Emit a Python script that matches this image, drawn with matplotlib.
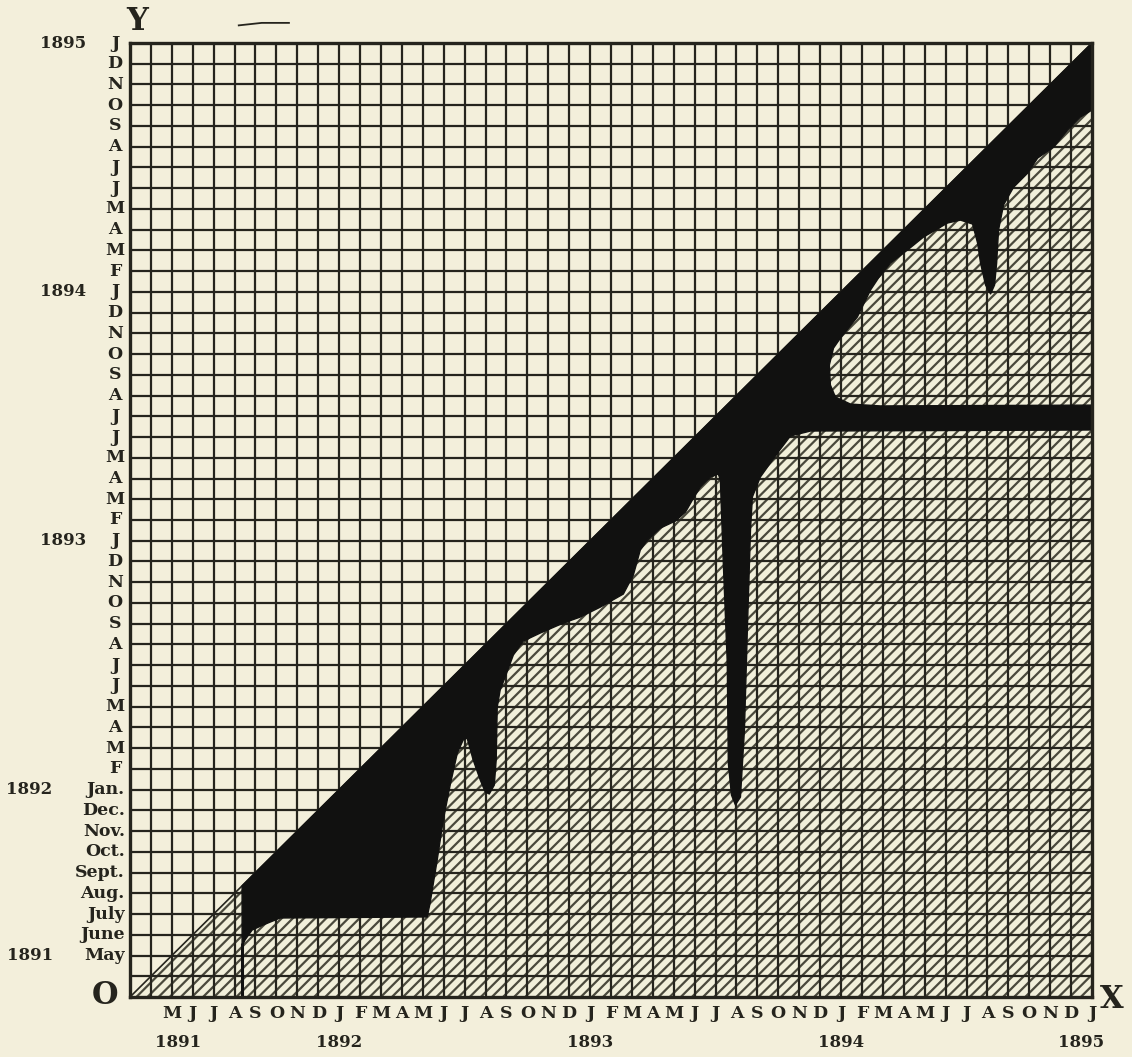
import numpy as np
import matplotlib.pyplot as plt
from matplotlib.patches import Polygon

# months counted from March 1891 (0) to January 1895 (46)
n_months = 46
x_month_letters = (list("MJJASOND") + list("JFMAMJJASOND") * 3 + ["J"])
y_month_labels = (["May", "June", "July", "Aug.", "Sept.", "Oct.", "Nov.", "Dec.", "Jan."]
                  + list("FMAMJJASOND") + list("JFMAMJJASOND") * 2 + ["J"])
label_start = 2          # first label (May 1891)
years = ["1891", "1892", "1893", "1894", "1895"]
year_pos_x = [2.3, 10, 22, 34, 45.5]
year_pos_y = [2, 10, 22, 34, 46]

# start of the black band on the diagonal
band_start = 5.36
stem_top = 2.41

# lower outline of the black band (months on x, months on y)
lower_x = [5.36, 5.50, 5.84, 6.36, 7.18, 14.21, 14.35, 14.69, 14.98, 15.31, 15.65, 15.93,
           16.12, 16.41, 16.75, 16.99, 17.18, 17.42, 17.51, 17.56, 17.70, 17.94, 18.33, 18.80,
           19.62, 20.72, 21.53, 22.49, 23.59, 24.07, 24.40, 24.74, 25.36, 26.08, 26.56, 26.89,
           27.27, 27.75, 28.13,
           28.23, 28.37, 28.56, 28.61, 28.76, 28.95, 29.19, 29.38, 29.52, 29.67, 29.76, 30.14,
           30.96, 31.58, 32.54, 46.0,
           46.0, 35.89, 34.45, 33.73, 33.49, 33.44, 33.64, 33.97, 34.78, 35.41, 35.79, 36.36,
           37.18, 37.94, 39.09, 39.71, 40.29, 40.53, 40.67, 40.91, 41.15, 41.34, 41.44, 41.53,
           41.77, 42.25, 42.92, 43.40, 44.16, 44.83, 45.45, 46.0]
lower_y = [2.41, 2.75, 3.23, 3.47, 3.81, 3.86, 4.53, 6.61, 8.53, 10.22, 11.76, 12.39,
           12.49, 11.43, 10.46, 9.88, 9.79, 10.22, 11.43, 13.98, 14.80, 15.43, 16.49, 17.16,
           17.55, 18.03, 18.32, 18.80, 19.43, 20.35, 21.55, 22.03, 22.61, 22.95, 23.38, 23.96,
           24.59, 25.07, 25.22,
           24.93, 20.93, 16.10, 11.28, 9.74, 9.26, 9.64, 12.87, 17.70, 22.52, 24.11, 25.07,
           26.23, 27.05, 27.29, 27.34,
           28.54, 28.50, 28.59, 28.93, 29.51, 30.47, 31.29, 31.77, 32.79, 34.09, 34.67, 35.39,
           36.02, 36.64, 37.32, 37.46, 37.27, 36.35, 35.39, 34.33, 33.90, 34.33, 35.39, 36.98,
           38.19, 39.05, 39.73, 40.45, 40.98, 41.80, 42.43, 42.77]

bg = "#f3efdb"
ink = "#25241d"
font = dict(family="DejaVu Serif", fontweight="bold", color=ink)

fig = plt.figure(figsize=(11.32, 10.57), dpi=100)
fig.patch.set_facecolor(bg)
ax = fig.add_axes([130 / 1132, 60 / 1057, 962 / 1132, 954 / 1057])
ax.set_facecolor(bg)
ax.set_xlim(0, n_months)
ax.set_ylim(0, n_months)
ax.set_xticks([])
ax.set_yticks([])

# hatched triangle below the diagonal
plt.rcParams["hatch.linewidth"] = 1.6
tri = Polygon([(0, 0), (n_months, 0), (n_months, n_months)], closed=True,
              facecolor="#f1efda", edgecolor="#4a493c", hatch="///", linewidth=0, zorder=1)
ax.add_patch(tri)

# monthly grid
for i in range(1, n_months):
    ax.axvline(i, color=ink, lw=1.6, zorder=2)
    ax.axhline(i, color=ink, lw=1.6, zorder=2)

ax.plot([0, n_months], [0, n_months], color=ink, lw=1.2, zorder=3)

# black band
outline = list(zip(lower_x, lower_y)) + [(n_months, n_months), (band_start, band_start)]
ax.add_patch(Polygon(outline, closed=True, facecolor="#111110", edgecolor="#111110",
                     lw=1.0, joinstyle="round", zorder=4))
ax.plot([band_start, band_start], [0, stem_top + 0.2], color="#111110", lw=2.2,
        solid_capstyle="butt", zorder=4)

for s in ax.spines.values():
    s.set_linewidth(2.4)
    s.set_color(ink)
    s.set_zorder(5)

# month labels along the bottom
for k, lab in enumerate(x_month_letters):
    ax.text(label_start + k, -0.78, lab, ha="center", va="center", fontsize=12.5,
            clip_on=False, **font)
for yr, xp in zip(years, year_pos_x):
    ax.text(xp, -2.2, yr, ha="center", va="center", fontsize=12, clip_on=False, **font)

# month labels up the left side
for k, lab in enumerate(y_month_labels):
    if len(lab) > 1:
        ax.text(-0.25, label_start + k, lab, ha="right", va="center", fontsize=12.5,
                clip_on=False, **font)
    else:
        ax.text(-0.72, label_start + k, lab, ha="center", va="center", fontsize=12.5,
                clip_on=False, **font)
for yr, yp in zip(years, year_pos_y):
    xp = -4.8 if yp <= 10 else -3.2
    ax.text(xp, yp, yr, ha="center", va="center", fontsize=12, clip_on=False, **font)

ax.text(-1.2, 0.05, "O", ha="center", va="center", fontsize=22, clip_on=False, **font)
ax.text(0.35, 47.05, "Y", ha="center", va="center", fontsize=22, clip_on=False, **font)
ax.text(46.95, -0.1, "X", ha="center", va="center", fontsize=22, clip_on=False, **font)
ax.plot([5.2, 6.3, 7.6], [46.85, 46.97, 46.97], color=ink, lw=1.3, clip_on=False)

fig.savefig("out.png", dpi=100, facecolor=bg)
